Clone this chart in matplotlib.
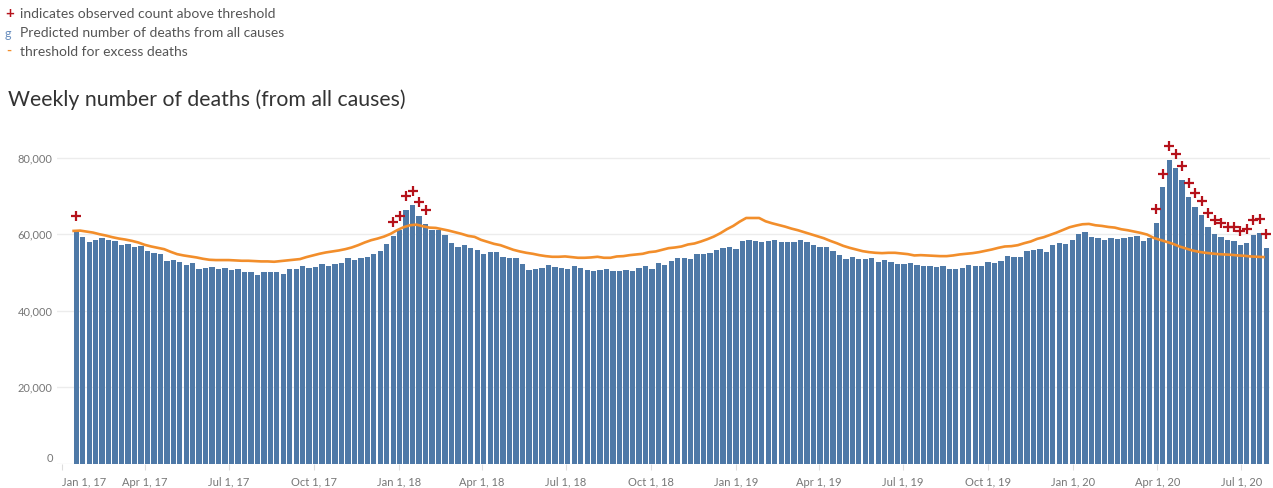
import matplotlib
matplotlib.use("Agg")
import matplotlib.pyplot as plt
import matplotlib.dates as mdates
import numpy as np
import pandas as pd

# week-ending dates (one bar per week)
first_week = "2017-01-14"

deaths = [
    61130, 59310, 58010, 58530, 59050, 58530, 58270, 57230, 57490, 56710,
    56970, 55670, 55150, 54890, 53070, 53330, 52810, 52030, 52550, 50990,
    51250, 51510, 50990, 51250, 50730, 50990, 50210, 50210, 49440, 50210,
    50210, 50210, 49700, 50990, 50990, 51770, 51250, 51510, 52290, 51770,
    52290, 52550, 53850, 53330, 53850, 54110, 54890, 55670, 57490, 59570,
    61130, 66320, 67620, 64760, 62690, 61130, 61130, 59830, 57750, 56710,
    57230, 56450, 55930, 54890, 55410, 55410, 54110, 53850, 53850, 52290,
    50730, 50990, 51250, 52030, 51510, 51250, 50990, 51770, 51250, 50730,
    50470, 50730, 50990, 50470, 50470, 50730, 50470, 51250, 51770, 50990,
    52550, 52030, 53070, 53850, 53850, 53590, 54890, 54890, 55150, 55930,
    56450, 56710, 56190, 58270, 58530, 58270, 58010, 58270, 58530, 58010,
    58010, 58010, 58530, 58010, 57230, 56710, 56710, 55670, 54630, 53590,
    54110, 53590, 53590, 53850, 52810, 53330, 52810, 52290, 52290, 52550,
    52030, 51770, 51770, 51510, 51770, 50990, 50990, 51250, 52030, 51770,
    51770, 52810, 52550, 53070, 54370, 54110, 54110, 55670, 55930, 56190,
    55410, 57230, 57750, 57490, 58530, 60090, 60610, 59310, 59050, 58530,
    59050, 58790, 59050, 59310, 59570, 58270, 59050, 62940, 72300, 79310,
    77230, 74120, 69700, 67100, 65020, 61910, 60090, 59310, 58530, 58270,
    57230, 57750, 59830, 60350, 56450,
]

threshold = [
    60870, 60950, 60690, 60430, 60000, 59650, 59220, 58870, 58610, 58270,
    57840, 57230, 56800, 56450, 56100, 55410, 54800, 54460, 54200, 53940,
    53590, 53330, 53250, 53250, 53250, 53160, 53070, 53070, 52990, 52900,
    52900, 52810, 52990, 53160, 53330, 53510, 54030, 54460, 54890, 55240,
    55500, 55760, 56100, 56540, 57140, 57840, 58440, 58870, 59390, 60090,
    61040, 61820, 62340, 62510, 62080, 61730, 61650, 61300, 60950, 60520,
    60090, 59570, 59310, 58530, 58010, 57490, 57140, 56540, 55930, 55500,
    55150, 54890, 54540, 54280, 54110, 54110, 54200, 54030, 53850, 53850,
    53940, 54110, 53850, 53850, 54200, 54280, 54540, 54720, 54890, 55320,
    55500, 55930, 56360, 56540, 56800, 57320, 57580, 58100, 58700, 59390,
    60260, 61300, 62170, 63290, 64240, 64240, 64240, 63380, 62860, 62430,
    61990, 61470, 61040, 60520, 60000, 59480, 58960, 58270, 57660, 56970,
    56450, 56020, 55580, 55320, 55150, 55060, 55150, 55150, 54980, 54800,
    54460, 54540, 54460, 54370, 54280, 54280, 54460, 54720, 54890, 55060,
    55320, 55670, 56020, 56450, 56800, 56880, 57140, 57660, 58100, 58790,
    59220, 59830, 60430, 61130, 61820, 62250, 62600, 62690, 62340, 62170,
    61900, 61730, 61300, 61040, 60690, 60350, 59910, 59050, 58530, 58010,
    57490, 56800, 56280, 55760, 55410, 55150, 54980, 54800, 54720, 54630,
    54460, 54370, 54200, 54110, 54030,
]

# weeks (index into the bars) where the observed count was above threshold
above_idx = [0, 49, 50, 51, 52, 53, 54] + list(range(167, 185))
above_count = [
    64760, 63200, 64680, 69960, 71260, 68400, 66320,
    66580, 75850, 83040, 80870, 77840, 73420, 70830, 68660, 65630, 63720,
    62860, 61990, 61910, 60950, 61300, 63720, 63980, 60000,
]

yticks = [0, 20000, 40000, 60000, 80000]

BAR_COLOR = "#4e79a7"
LINE_COLOR = "#f28e2b"
PLUS_COLOR = "#b5121b"
FONT = "Lato"

plt.rcParams["font.family"] = [FONT, "DejaVu Sans"]

weeks = pd.date_range(first_week, periods=len(deaths), freq="7D")

fig = plt.figure(figsize=(12.73, 4.88), dpi=100)
ax = fig.add_axes([57 / 1273, 24 / 488, 1213 / 1273, 337 / 488])

ax.bar(weeks, deaths, width=5.8, align="edge", color=BAR_COLOR, zorder=2)
ax.plot(weeks, threshold, color=LINE_COLOR, linewidth=1.9, zorder=3,
        solid_joinstyle="round")
plus_x = weeks[above_idx] + pd.Timedelta(days=3)
ax.plot(plus_x, above_count, linestyle="none", marker="+", markersize=7.5,
        markeredgewidth=1.6, color=PLUS_COLOR, zorder=4)

ax.set_xlim(pd.Timestamp("2016-12-27"), pd.Timestamp("2020-08-01"))
ax.set_ylim(0, 88000)

for s in ax.spines.values():
    s.set_visible(False)

ax.set_yticks(yticks)
ax.set_yticklabels([f"{v:,}" for v in yticks])
ax.yaxis.grid(True, color="#ececec", linewidth=1, zorder=0)
ax.set_axisbelow(True)
ax.tick_params(axis="y", length=0, pad=3, labelsize=8, labelcolor="#777777")
ax.get_yticklabels()[0].set_va("bottom")

quarters = pd.date_range("2017-01-01", "2020-07-01", freq="QS")
ax.set_xticks(quarters)
ax.set_xticklabels([f"{d:%b} {d.day}, {d:%y}" for d in quarters])
ax.tick_params(axis="x", length=4, width=0.8, color="#dddddd", pad=5,
               labelsize=8, labelcolor="#777777")
ax.get_xticklabels()[0].set_ha("left")

# legend rows at the top
W, H = 1273, 488
fig.text(10 / W, 1 - 14 / H, "+", color=PLUS_COLOR, fontsize=11,
         fontweight="bold", ha="center", va="center")
fig.text(20 / W, 1 - 14 / H, "indicates observed count above threshold",
         color="#555555", fontsize=10, va="center")
fig.text(8 / W, 1 - 34 / H, "g", color="#6a8fbf", fontsize=9,
         ha="center", va="center")
fig.text(20 / W, 1 - 33 / H, "Predicted number of deaths from all causes",
         color="#555555", fontsize=10, va="center")
fig.text(9 / W, 1 - 51 / H, "-", color=LINE_COLOR, fontsize=10,
         fontweight="bold", ha="center", va="center")
fig.text(20 / W, 1 - 52 / H, "threshold for excess deaths",
         color="#555555", fontsize=10, va="center")

fig.text(8 / W, 1 - 100 / H, "Weekly number of deaths (from all causes)",
         color="#333333", fontsize=15.3, va="center")

fig.savefig("out.png", dpi=100)
